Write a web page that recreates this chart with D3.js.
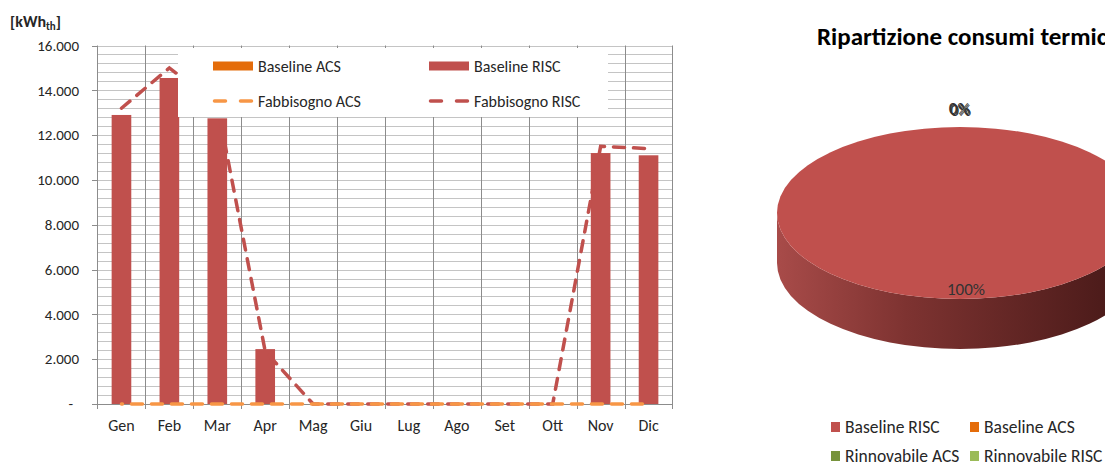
<!DOCTYPE html>
<html><head><meta charset="utf-8">
<script src="https://cdn.jsdelivr.net/npm/d3@7"></script>
<style>
body{margin:0;background:#fff;}
svg{display:block;font-family:Carlito, Lato, "Open Sans", sans-serif;}
</style></head>
<body><svg id="c" width="1105" height="465"></svg>
<script>
// ---- data ----
const months = ["Gen","Feb","Mar","Apr","Mag","Giu","Lug","Ago","Set","Ott","Nov","Dic"];
const baselineACS  = [0,0,0,0,0,0,0,0,0,0,0,0];
const baselineRISC = [12900,14550,12750,2450,0,0,0,0,0,0,11200,11100];
const fabbisognoACS  = [0,0,0,0,0,0,0,0,0,0,0,0];
const fabbisognoRISC = [13200,15000,13350,2350,0,0,0,0,0,0,11500,11400];
const yTicks = [0,2000,4000,6000,8000,10000,12000,14000,16000];
const pieLabels = ["Baseline RISC","Baseline ACS","Rinnovabile ACS","Rinnovabile RISC"];
const pieValues = [d3.sum(baselineRISC), d3.sum(baselineACS), 0, 0];

const C = {risc:"#C0504D", acs:"#E46C0A", facs:"#F79646", frisc:"#C0504D", rACS:"#77933C", rRISC:"#9BBB59"};
const FS = 16;

const svg = d3.select("#c");

// ---- bar/line chart ----
const x = d3.scaleBand().domain(months).range([97.5,672.5]).paddingInner(0).paddingOuter(0);
const y = d3.scaleLinear().domain([0,16000]).range([404,45.5]);
const g = svg.append("g");

// horizontal minor gridlines
const minor = d3.range(400,16001,400);
g.selectAll("line.hg").data(minor).enter().append("line")
  .attr("x1",97.5).attr("x2",672.5)
  .attr("y1",d=>Math.round(y(d))+0.5).attr("y2",d=>Math.round(y(d))+0.5)
  .attr("stroke","#C4C4C4").attr("stroke-width",1);
// vertical gridlines at category boundaries
g.selectAll("line.vg").data(months).enter().append("line")
  .attr("x1",(d,i)=>Math.round(x(d)+x.step())+0.5)
  .attr("x2",(d,i)=>Math.round(x(d)+x.step())+0.5)
  .attr("y1",y(16000)).attr("y2",409)
  .attr("stroke","#8C8C8C").attr("stroke-width",1);
// y axis line + ticks
g.append("line").attr("x1",97.5).attr("x2",97.5).attr("y1",y(16000)).attr("y2",409).attr("stroke","#8C8C8C");
g.selectAll("line.yt").data(yTicks).enter().append("line")
  .attr("x1",92).attr("x2",97.5)
  .attr("y1",d=>Math.round(y(d))+0.5).attr("y2",d=>Math.round(y(d))+0.5)
  .attr("stroke","#8C8C8C");
// x axis line
g.append("line").attr("x1",92).attr("x2",672.5).attr("y1",404.5).attr("y2",404.5).attr("stroke","#8C8C8C");

// y tick labels
g.selectAll("text.yl").data(yTicks).enter().append("text")
  .attr("x",d=>d===0?73:79).attr("y",d=>y(d)).attr("dy","0.35em")
  .attr("text-anchor","end").attr("font-size",15).attr("fill","#262626")
  .text(d=> d===0 ? "-" : d3.format(",.0f")(d).replace(/,/g,".")) ;
// x labels
g.selectAll("text.xl").data(months).enter().append("text")
  .attr("x",d=>x(d)+x.bandwidth()/2).attr("y",425).attr("dy","0.35em")
  .attr("text-anchor","middle").attr("font-size",FS).attr("fill","#262626").text(d=>d);
// unit label
const ul = g.append("text").attr("x",10).attr("y",27).attr("font-size",FS).attr("font-weight","bold").attr("fill","#262626");
ul.append("tspan").text("[kWh");
ul.append("tspan").attr("font-size",11).attr("dy",3).text("th");
ul.append("tspan").attr("dy",-3).text("]");

// bars
const bw = x.bandwidth()*0.41;
g.selectAll("rect.acs").data(baselineACS).enter().append("rect")
  .attr("x",(d,i)=>x(months[i])+x.bandwidth()/2-bw/2).attr("width",bw)
  .attr("y",d=>y(d)).attr("height",d=>404-y(d)).attr("fill",C.acs);
g.selectAll("rect.risc").data(baselineRISC).enter().append("rect")
  .attr("x",(d,i)=>x(months[i])+x.bandwidth()/2-bw/2).attr("width",bw)
  .attr("y",d=>y(d)).attr("height",d=>404-y(d)).attr("fill",C.risc);

// lines
const line = d3.line().x((d,i)=>x(months[i])+x.bandwidth()/2).y(d=>y(d));
g.append("path").datum(fabbisognoRISC).attr("d",line).attr("fill","none")
  .attr("stroke",C.frisc).attr("stroke-width",3.5).attr("stroke-dasharray","11,9").attr("stroke-linecap","round");
g.append("path").datum(fabbisognoACS).attr("d",line).attr("fill","none")
  .attr("stroke",C.facs).attr("stroke-width",3.5).attr("stroke-dasharray","11,9").attr("stroke-dashoffset",-10).attr("stroke-linecap","round");

// legend
const lg = g.append("g");
lg.append("rect").attr("x",178).attr("y",48).attr("width",430).attr("height",69).attr("fill","#fff");
const legItems = [
  {t:"Baseline ACS", type:"rect", c:C.acs, x:213, y:66},
  {t:"Baseline RISC", type:"rect", c:C.risc, x:429, y:66},
  {t:"Fabbisogno ACS", type:"line", c:C.facs, x:213, y:101},
  {t:"Fabbisogno RISC", type:"line", c:C.frisc, x:429, y:101}
];
legItems.forEach(it=>{
  if(it.type==="rect"){
    lg.append("rect").attr("x",it.x).attr("y",it.y-4.5).attr("width",40).attr("height",9).attr("fill",it.c);
  } else {
    lg.append("line").attr("x1",it.x+1.5).attr("x2",it.x+38.5).attr("y1",it.y).attr("y2",it.y)
      .attr("stroke",it.c).attr("stroke-width",3.5).attr("stroke-linecap","round").attr("stroke-dasharray","11,15");
  }
  lg.append("text").attr("x",it.x+45).attr("y",it.y).attr("dy","0.35em").attr("font-size",FS).attr("fill","#262626").text(it.t);
});

// ---- pie chart (3D look) ----
svg.append("text").attr("x",817).attr("y",45).attr("font-size",25).attr("font-weight","bold").attr("fill","#000")
  .text("Ripartizione consumi termici");

const cx=960, cy=213, rx=183, ry=86, depth=50;
const pieColors = [C.risc, C.acs, C.rACS, C.rRISC];
const pie = d3.pie().sort(null).value(d=>d)(pieValues);
const arc = d3.arc().innerRadius(0).outerRadius(rx);

const defs = svg.append("defs");
const grad = defs.append("linearGradient").attr("id","side").attr("x1","0").attr("x2","1").attr("y1","0").attr("y2","0");
grad.append("stop").attr("offset","0%").attr("stop-color","#A84B49");
grad.append("stop").attr("offset","35%").attr("stop-color","#7E3331");
grad.append("stop").attr("offset","100%").attr("stop-color","#431716");

const pg = svg.append("g");
pg.append("path")
  .attr("d",`M${cx-rx},${cy} A${rx},${ry} 0 0 0 ${cx+rx},${cy} L${cx+rx},${cy+depth} A${rx},${ry} 0 0 1 ${cx-rx},${cy+depth} Z`)
  .attr("fill","url(#side)");
pg.append("g").attr("transform",`translate(${cx},${cy}) scale(1,${ry/rx})`)
  .selectAll("path").data(pie).enter().append("path")
  .attr("d",arc).attr("fill",(d,i)=>pieColors[i]);

// labels
const total = d3.sum(pieValues);
pie.forEach((d,i)=>{
  const a = (d.startAngle+d.endAngle)/2;
  const pct = Math.round(d.data/total*100)+"%";
  let lx, ly;
  if(d.data/total>0.5){ lx = cx + Math.sin(a)*rx*0.85 + 6; ly = cy - Math.cos(a)*ry*0.89; }
  else { lx = cx + Math.sin(a)*rx + (i-2)*0.8; ly = cy - Math.cos(a)*ry - 18 + (i-2)*0.7; }
  pg.append("text").attr("x",lx).attr("y",ly).attr("dy","0.35em").attr("text-anchor","middle")
    .attr("font-size",17).attr("fill","#333").text(pct);
});

// pie legend
const pl = svg.append("g");
const plPos = [[831,427],[970,427],[831,456],[970,456]];
pieLabels.forEach((t,i)=>{
  pl.append("rect").attr("x",plPos[i][0]).attr("y",plPos[i][1]-5).attr("width",9).attr("height",10).attr("fill",pieColors[i]);
  pl.append("text").attr("x",plPos[i][0]+14).attr("y",plPos[i][1]).attr("dy","0.35em").attr("font-size",17.5).attr("fill","#262626").text(t);
});
</script></body></html>
